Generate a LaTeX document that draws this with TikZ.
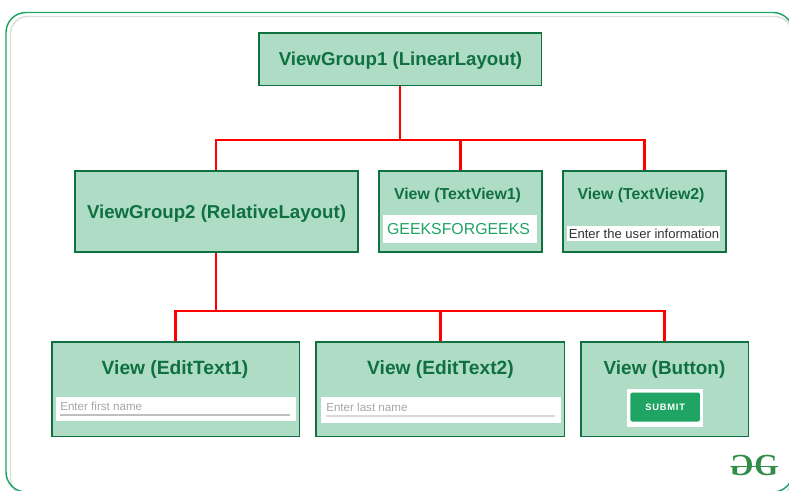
\documentclass[tikz,border=0pt]{standalone}
\usepackage{fontspec}
\setmainfont{Liberation Sans}
\newfontfamily\logofont{Liberation Serif}
\definecolor{gfgfill}{HTML}{AFDCC5}
\definecolor{gfgdark}{HTML}{0F7040}
\definecolor{gfggreen}{HTML}{1FA463}
\definecolor{gfglogo}{HTML}{2F8D46}
\definecolor{frameg}{HTML}{DDDDDD}
\tikzset{
  x=0.75pt,y=-0.75pt,
  box/.style={draw=gfgdark,fill=gfgfill,line width=1.25pt,inner sep=0pt,anchor=north west,xshift=-0.5pt,yshift=0.5pt},
  title/.style={text=gfgdark,font=\bfseries,inner sep=0pt},
  whitebar/.style={fill=white,inner sep=0pt,anchor=north west},
  link/.style={draw=red,line width=2.1pt},
}
\newcommand{\fs}[1]{\fontsize{#1}{#1}\selectfont}
\begin{document}
\begin{tikzpicture}
\useasboundingbox (0,0) rectangle (789,490);
% outer frame
\draw[frameg,line width=1.1pt,rounded corners=13pt] (10.5,16.5) rectangle (792,496);
\draw[gfggreen,line width=1.1pt,rounded corners=15pt] (6,12.5) rectangle (793,492);
% boxes
\node[box,minimum width=0.75*282.4,minimum height=0.75*52.4] (vg1) at (259,33) {};
\node[box,minimum width=0.75*283.5,minimum height=0.75*81.4] (vg2) at (74.5,170.5) {};
\node[box,minimum width=0.75*163.4,minimum height=0.75*81.4] (tv1) at (378.5,170.5) {};
\node[box,minimum width=0.75*163.4,minimum height=0.75*81.4] (tv2) at (562.5,170.5) {};
\node[box,minimum width=0.75*247.4,minimum height=0.75*94.4] (et1) at (52,342) {};
\node[box,minimum width=0.75*248.4,minimum height=0.75*94.4] (et2) at (316,342) {};
\node[box,minimum width=0.75*167.4,minimum height=0.75*94.4] (btn) at (581,342) {};
% connectors
\coordinate (bus1) at (400,140);
\coordinate (bus2) at (216,311);
\draw[link] (vg1.south -| bus1) -- (bus1);
\draw[link] (vg2.north -| bus2) |- (bus1) -| (tv2.north);
\draw[link] (tv1.north) -- (tv1.north |- bus1);
\draw[link] (vg2.south -| bus2) -- (bus2);
\draw[link] (et1.north) |- (bus2) -| (btn.north);
\draw[link] (et2.north) -- (et2.north |- bus2);
% titles
\node[title] (t1) at (400.5,61) {\fs{14}ViewGroup1 (LinearLayout)};
\node[title] (t2) at (216.5,214) {\fs{14}ViewGroup2 (RelativeLayout)};
\node[title] (t3) at (457.5,195) {\fs{11.9}View (TextView1)};
\node[title] (t4) at (641,195) {\fs{11.9}View (TextView2)};
\node[title] (t5) at (175,370) {\fs{14.4}View (EditText1)};
\node[title] (t6) at (440.5,370) {\fs{14.4}View (EditText2)};
\node[title] (t7) at (664.5,370) {\fs{14.2}View (Button)};
% widgets
\node[whitebar,minimum width=0.75*154,minimum height=0.75*28] (w1) at (383,215) {};
\node[text=gfggreen,inner sep=0pt] (w1t) at (458.5,229.5) {\fs{11.9}GEEKSFORGEEKS};
\node[whitebar,minimum width=0.75*153,minimum height=0.75*15] (w2) at (567,226) {};
\node[text=black!80,inner sep=0pt] (w2t) at (644,234) {\fs{9.8}Enter the user information};
\node[whitebar,minimum width=0.75*240,minimum height=0.75*24] (w3) at (56,397) {};
\node[text=black!35,inner sep=0pt,anchor=west] (w3t) at (60,406.5) {\fs{8.7}Enter first name};
\coordinate (u1a) at (60,415);
\coordinate (u1b) at (290,415);
\draw[black!25,line width=1pt] (u1a) -- (u1b);
\node[whitebar,minimum width=0.75*240,minimum height=0.75*26] (w4) at (321,397) {};
\node[text=black!35,inner sep=0pt,anchor=west] (w4t) at (326,407.5) {\fs{8.7}Enter last name};
\coordinate (u2a) at (326,416);
\coordinate (u2b) at (555,416);
\draw[black!15,line width=1pt] (u2a) -- (u2b);
\node[whitebar,minimum width=0.75*76,minimum height=0.75*38] (w5) at (627,389) {};
\node[fill=gfggreen,rounded corners=1.5pt,minimum width=0.75*69.5,minimum height=0.75*29,inner sep=0pt,text=white] (w5b) at (665.2,407) {\fs{7}\addfontfeature{LetterSpace=8}\bfseries SUBMIT};
% logo
\node[text=gfglogo,inner sep=0pt] (lg) at (754,465) {\logofont\bfseries\fs{23}\scalebox{-1}[1]{G}\hspace{0.6pt}G};
\coordinate (la) at (731,466.5);
\coordinate (lb) at (778,466.5);
\draw[gfglogo,line width=0.8pt] (la) -- (lb);
\end{tikzpicture}
\end{document}
